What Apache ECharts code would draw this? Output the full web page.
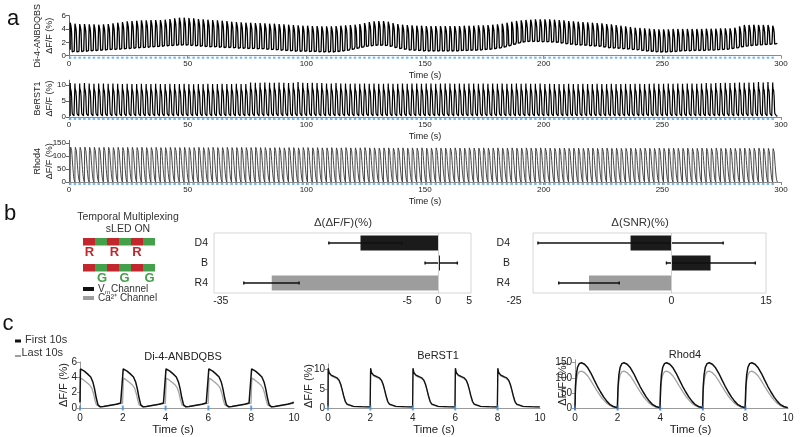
<!DOCTYPE html>
<html>
<head>
<meta charset="utf-8">
<script src="https://cdn.jsdelivr.net/npm/echarts@6/dist/echarts.min.js"></script>
<style>
  html, body { margin: 0; padding: 0; background: #fff; }
  #chart { width: 800px; height: 437px; }
</style>
</head>
<body>
<div id="chart"></div>
<script>
// ---------- values ----------
// panel a: one beat every 2 s, peak / trough of each beat
var beatStart = 0.5, beatPeriod = 2;

var di4Peaks = [
  4.95, 4.8, 4.75, 4.75, 4.7, 4.7, 4.65, 4.7, 4.75, 4.85,
  4.95, 5.05, 5.15, 5.2, 5.25, 5.3, 5.3, 5.35, 5.35, 5.35,
  5.4, 5.5, 5.6, 5.7, 5.7, 5.65, 5.6, 5.5, 5.45, 5.4,
  5.35, 5.3, 5.25, 5.2, 5.1, 5.05, 5.0, 4.95, 4.95, 4.9,
  4.9, 4.85, 4.8, 4.8, 4.75, 4.7, 4.65, 4.6, 4.55, 4.5,
  4.5, 4.45, 4.45, 4.4, 4.4, 4.4, 4.45, 4.5, 4.55, 4.6,
  4.65, 4.75, 4.9, 5.05, 5.15, 5.2, 5.2, 5.1, 4.9, 4.75,
  4.65, 4.6, 4.55, 4.5, 4.5, 4.45, 4.45, 4.45, 4.45, 4.45,
  4.45, 4.45, 4.45, 4.5, 4.5, 4.5, 4.55, 4.55, 4.6, 4.65,
  4.7, 4.8, 4.95, 5.1, 5.2, 5.3, 5.35, 5.4, 5.45, 5.45,
  5.45, 5.45, 5.4, 5.35, 5.3, 5.2, 5.15, 5.1, 5.05, 5.0,
  4.95, 4.9, 4.85, 4.75, 4.7, 4.6, 4.5, 4.4, 4.3, 4.2,
  4.15, 4.1, 4.05, 4.0, 3.95, 3.95, 3.95, 4.0, 4.0, 4.0,
  4.0, 4.0, 4.0, 4.0, 4.05, 4.05, 4.05, 4.1, 4.1, 4.1,
  4.2, 4.4, 4.6, 4.6, 4.65, 4.6, 4.6, 4.6, 4.5
];
var di4Bases = [
  0.35, 0.35, 0.4, 0.45, 0.5, 0.55, 0.6, 0.65, 0.7, 0.72,
  0.75, 0.8, 0.85, 0.9, 0.95, 1.0, 1.05, 1.1, 1.15, 1.2,
  1.25, 1.3, 1.35, 1.35, 1.35, 1.3, 1.25, 1.2, 1.15, 1.1,
  1.1, 1.05, 1.0, 1.0, 0.95, 0.9, 0.9, 0.85, 0.85, 0.8,
  0.8, 0.75, 0.7, 0.65, 0.6, 0.55, 0.5, 0.45, 0.45, 0.45,
  0.4, 0.4, 0.35, 0.35, 0.35, 0.35, 0.4, 0.5, 0.6, 0.75,
  0.9, 1.05, 1.2, 1.3, 1.35, 1.35, 1.3, 1.2, 1.0, 0.85,
  0.75, 0.65, 0.6, 0.55, 0.5, 0.5, 0.5, 0.5, 0.5, 0.5,
  0.5, 0.5, 0.55, 0.55, 0.6, 0.6, 0.65, 0.7, 0.75, 0.85,
  0.95, 1.1, 1.3, 1.5, 1.7, 1.85, 1.95, 1.95, 1.95, 1.9,
  1.9, 1.85, 1.8, 1.7, 1.6, 1.5, 1.45, 1.4, 1.35, 1.3,
  1.25, 1.2, 1.1, 1.0, 0.95, 0.9, 0.85, 0.8, 0.75, 0.7,
  0.6, 0.5, 0.45, 0.4, 0.35, 0.35, 0.4, 0.45, 0.5, 0.55,
  0.55, 0.6, 0.6, 0.6, 0.65, 0.65, 0.7, 0.75, 0.8, 0.9,
  1.0, 1.15, 1.25, 1.35, 1.4, 1.45, 1.5, 1.55, 1.6
];
var berstPeaks = [
  10.6, 10.5, 10.5, 10.6, 10.5, 10.4, 10.5, 10.5, 10.4, 10.5,
  10.4, 10.3, 10.4, 10.3, 10.3, 10.4, 10.3, 10.3, 10.4, 10.3,
  10.3, 10.4, 10.3, 10.3, 10.4, 10.3, 10.2, 10.3, 10.3, 10.4,
  10.3, 10.3, 10.4, 10.3, 10.3, 10.4, 10.3, 10.3, 10.8, 10.7,
  10.7, 10.8, 10.7, 10.7, 10.8, 10.7, 10.6, 10.7, 10.9, 10.7,
  10.6, 10.7, 10.6, 10.6, 10.5, 10.5, 10.6, 10.5, 10.5, 10.4,
  10.5, 10.4, 10.5, 10.4, 10.5, 10.4, 10.4, 10.5, 10.4, 10.4,
  10.5, 10.4, 10.5, 10.5, 10.4, 10.5, 10.5, 10.4, 10.5, 10.5,
  10.5, 10.4, 10.5, 10.4, 10.5, 10.5, 10.4, 10.5, 10.4, 10.5,
  10.4, 10.5, 10.4, 10.4, 10.5, 10.4, 10.5, 10.4, 10.4, 10.5,
  10.3, 10.4, 10.3, 10.3, 10.3, 10.4, 10.3, 10.3, 10.4, 10.3,
  10.3, 10.4, 10.3, 10.3, 10.4, 10.3, 10.3, 10.4, 10.3, 10.4,
  10.4, 10.3, 10.4, 10.5, 10.4, 10.4, 10.5, 10.4, 10.5, 10.4,
  10.5, 10.5, 10.4, 10.5, 10.6, 10.5, 10.6, 10.6, 10.7, 10.6,
  10.7, 10.8, 10.7, 10.8, 10.8, 10.9, 10.8, 10.9, 10.8
];
var berstBase = 0.3;
var rhodPeaks = [
  137, 136, 136, 137, 136, 136, 135, 136, 136, 135,
  136, 135, 136, 136, 135, 136, 135, 135, 136, 135,
  135, 136, 135, 135, 136, 135, 135, 136, 135, 135,
  136, 135, 135, 136, 135, 135, 136, 135, 135, 136,
  135, 135, 134, 135, 135, 134, 135, 135, 134, 135,
  135, 134, 135, 134, 134, 135, 134, 134, 135, 134,
  134, 134, 135, 134, 134, 133, 134, 134, 133, 134,
  134, 133, 134, 133, 134, 133, 133, 134, 133, 133,
  133, 134, 133, 133, 134, 133, 133, 134, 133, 133,
  134, 133, 133, 134, 133, 133, 134, 133, 133, 134,
  133, 133, 132, 133, 133, 132, 133, 133, 132, 133,
  133, 132, 133, 133, 132, 133, 132, 132, 133, 132,
  132, 133, 132, 132, 133, 132, 132, 133, 132, 132,
  133, 132, 132, 133, 132, 132, 133, 132, 132, 133,
  132, 132, 133, 132, 132, 133, 132, 132, 131
];
var rhodBase = 0;

// panel c: one beat (time after onset in s, dF/F in %), first 10 s and last 10 s
var di4FirstT = [0, 0.02, 0.08, 0.2, 0.35, 0.5, 0.6, 0.68, 0.76, 0.84, 0.95, 1.1, 1.3, 1.5, 1.7, 1.9, 1.99];
var di4FirstV = [0.75, 5.1, 5.0, 4.8, 4.45, 4.05, 3.4, 2.5, 1.3, 0.4, 0.15, 0.2, 0.3, 0.4, 0.5, 0.65, 0.75];
var di4LastT = [0, 0.03, 0.15, 0.3, 0.45, 0.55, 0.63, 0.7, 0.77, 0.85, 0.95, 1.1, 1.4, 1.7, 1.99];
var di4LastV = [0.6, 3.9, 3.7, 3.35, 3.0, 2.6, 1.9, 1.0, 0.4, 0.2, 0.15, 0.2, 0.35, 0.5, 0.6];
var berstFirstT = [0, 0.01, 0.05, 0.15, 0.3, 0.42, 0.52, 0.6, 0.66, 0.74, 0.82, 0.9, 0.97, 1.2, 1.6, 1.99];
var berstFirstV = [0.3, 10.4, 9.3, 8.6, 8.2, 7.9, 7.3, 6.2, 5.0, 3.2, 1.7, 1.0, 0.75, 0.45, 0.35, 0.3];
var berstLastT = [0, 0.01, 0.05, 0.15, 0.3, 0.42, 0.52, 0.6, 0.66, 0.74, 0.82, 0.9, 0.97, 1.2, 1.6, 1.99];
var berstLastV = [0.3, 10.1, 9.0, 8.4, 8.0, 7.7, 7.1, 6.0, 4.8, 3.0, 1.5, 0.9, 0.6, 0.35, 0.3, 0.25];
var rhodFirstT = [0, 0.02, 0.06, 0.12, 0.2, 0.3, 0.45, 0.6, 0.75, 0.9, 1.05, 1.2, 1.35, 1.5, 1.65, 1.8, 1.99];
var rhodFirstV = [1, 70, 110, 135, 147, 150, 145, 133, 115, 93, 72, 53, 36, 22, 11, 5, 1];
var rhodLastT = [0, 0.02, 0.06, 0.12, 0.2, 0.3, 0.45, 0.6, 0.75, 0.9, 1.05, 1.2, 1.35, 1.5, 1.65, 1.8, 1.99];
var rhodLastV = [1, 55, 90, 110, 120, 122, 117, 106, 90, 72, 55, 39, 26, 15, 8, 3, 1];
var onsetsC = [0, 2, 4, 6, 8];

// panel b
var barCats = ['D4', 'B', 'R4'];
var barColors = ['#1b1b1b', '#1b1b1b', '#9d9d9d'];
var dffDelta = [-12.5, 0.3, -26.8];
var dffErrLow = [-17.6, -2.1, -31.3];
var dffErrHigh = [-5.8, 3.1, -22.4];
var snrDelta = [-6.5, 6.2, -13.1];
var snrErrLow = [-21.2, -0.8, -17.9];
var snrErrHigh = [8.2, 13.3, -8.3];

// ---------- helpers ----------
var FONT = 'Liberation Sans, Arial, Helvetica, sans-serif';
var INK = '#222';
var AXIS = '#8a8a8a';

var onsetsA = di4Peaks.map(function (p, k) { return beatStart + k * beatPeriod; });

// beat shape from panel c, scaled to each beat's trough and peak
function beatTrace(tT, tV, peaks, bases) {
  var vmin = Math.min.apply(null, tV), vmax = Math.max.apply(null, tV);
  var out = [];
  peaks.forEach(function (pk, k) {
    var b = Array.isArray(bases) ? bases[k] : bases;
    tT.forEach(function (tt, i) {
      out.push([onsetsA[k] + tt, b + (tV[i] - vmin) / (vmax - vmin) * (pk - b)]);
    });
  });
  return out;
}
function repeatBeat(tT, tV, onsets) {
  var out = [];
  onsets.forEach(function (t0) {
    tT.forEach(function (tt, i) { out.push([t0 + tt, tV[i]]); });
  });
  return out;
}

function txt(x, y, s, size, color, align, extra) {
  var st = {
    text: s, fontSize: size, fontFamily: FONT, fill: color || INK,
    align: align || 'center', textAlign: align || 'center',
    verticalAlign: 'middle', textVerticalAlign: 'middle'
  };
  if (extra) for (var k in extra) st[k] = extra[k];
  return { type: 'text', x: x, y: y, z: 20, style: st };
}
function rect(x, y, w, h, fill) {
  return { type: 'rect', z: 20, shape: { x: x, y: y, width: w, height: h }, style: { fill: fill } };
}

function timeAxisA(gi) {
  return {
    type: 'value', gridIndex: gi, min: 0, max: 300, interval: 50,
    axisLine: { lineStyle: { color: AXIS, width: 1 } },
    axisTick: { length: 3, lineStyle: { color: AXIS } },
    axisLabel: { fontSize: 8, color: INK, margin: 4, fontFamily: FONT },
    splitLine: { show: false },
    name: 'Time (s)', nameLocation: 'middle', nameGap: 15, nameMoveOverlap: false,
    nameTextStyle: { fontSize: 9, color: INK, fontFamily: FONT }
  };
}
function valAxisA(gi, max, ticks, name) {
  return {
    type: 'value', gridIndex: gi, min: 0, max: max,
    axisLine: { show: true, lineStyle: { color: '#666' } },
    axisTick: { show: true, length: 3, customValues: ticks, lineStyle: { color: '#666' } },
    axisLabel: { fontSize: 8, color: INK, margin: 3, customValues: ticks, fontFamily: FONT },
    splitLine: { show: false },
    name: name, nameLocation: 'middle', nameRotate: 90, nameGap: 13, nameMoveOverlap: false,
    nameTextStyle: { fontSize: 9, lineHeight: 12, color: INK, fontFamily: FONT }
  };
}
function timeAxisC(gi, pad) {
  return {
    type: 'value', gridIndex: gi, min: 0, max: 10, interval: 2,
    axisLine: { lineStyle: { color: '#9a9a9a', width: 1.2 } },
    axisTick: { show: false },
    axisLabel: { fontSize: 10, color: INK, margin: 5, fontFamily: FONT },
    splitLine: { show: false },
    name: 'Time (s)', nameLocation: 'middle', nameGap: 16, nameMoveOverlap: false,
    nameTextStyle: { fontSize: 11.5, color: INK, fontFamily: FONT, padding: pad || 0 }
  };
}
function valAxisC(gi, max, ticks, gap) {
  return {
    type: 'value', gridIndex: gi, min: 0, max: max,
    axisLine: { show: true, lineStyle: { color: '#9a9a9a' } },
    axisTick: { show: true, length: 3, customValues: ticks, lineStyle: { color: '#9a9a9a' } },
    axisLabel: { fontSize: 10, color: INK, margin: 3, customValues: ticks, fontFamily: FONT },
    splitLine: { show: false },
    name: 'ΔF/F (%)', nameLocation: 'middle', nameRotate: 90, nameGap: gap, nameMoveOverlap: false,
    nameTextStyle: { fontSize: 11, color: INK, fontFamily: FONT }
  };
}
function barValAxis(gi, min, max, ticks) {
  return {
    type: 'value', gridIndex: gi, min: min, max: max,
    axisLine: { show: false }, axisTick: { show: false }, splitLine: { show: false },
    axisLabel: { fontSize: 10.5, color: INK, margin: 3, customValues: ticks, fontFamily: FONT }
  };
}
function barCatAxis(gi, margin) {
  return {
    type: 'category', gridIndex: gi, data: barCats, inverse: true,
    axisLine: { show: false }, axisTick: { show: false },
    axisLabel: { fontSize: 10.5, color: INK, margin: margin, fontFamily: FONT }
  };
}

function lineSeries(ai, data, color, width, z) {
  return {
    type: 'line', xAxisIndex: ai, yAxisIndex: ai, data: data, showSymbol: false,
    lineStyle: { color: color, width: width }, z: z || 2, animation: false, silent: true
  };
}
function stimSeries(ai, times, size, offset, color) {
  return {
    type: 'scatter', xAxisIndex: ai, yAxisIndex: ai, clip: false, silent: true,
    data: times.map(function (t) { return [t, 0]; }),
    symbol: 'rect', symbolSize: size, symbolOffset: offset,
    itemStyle: { color: color }, z: 5
  };
}
function barSeries(ai, vals) {
  return {
    type: 'bar', xAxisIndex: ai, yAxisIndex: ai, barWidth: 15, silent: true,
    data: vals.map(function (v, i) { return { value: v, itemStyle: { color: barColors[i] } }; }),
    markLine: {
      silent: true, symbol: 'none', label: { show: false },
      lineStyle: { color: '#cfcfcf', width: 1, type: 'solid' },
      data: [{ xAxis: 0 }]
    }
  };
}
function errSeries(ai, lo, hi) {
  return {
    type: 'custom', xAxisIndex: ai, yAxisIndex: ai, silent: true, z: 4,
    data: barCats.map(function (c, i) { return [lo[i], hi[i], i]; }),
    encode: { x: [0, 1], y: 2 },
    renderItem: function (params, api) {
      var a = api.coord([api.value(0), api.value(2)]);
      var b = api.coord([api.value(1), api.value(2)]);
      var st = { stroke: '#111', lineWidth: 1.4 };
      return {
        type: 'group', children: [
          { type: 'line', shape: { x1: a[0], y1: a[1], x2: b[0], y2: b[1] }, style: st },
          { type: 'line', shape: { x1: a[0], y1: a[1] - 1.5, x2: a[0], y2: a[1] + 1.5 }, style: st },
          { type: 'line', shape: { x1: b[0], y1: b[1] - 1.5, x2: b[0], y2: b[1] + 1.5 }, style: st }
        ]
      };
    }
  };
}

// ---------- panel b schematic + labels ----------
var RED = '#c1272d', GREEN = '#44a04a';
var muxColors = [RED, GREEN, RED, GREEN, RED, GREEN];
var graphics = [
  txt(13, 19, 'a', 22, '#111'),
  txt(10, 214, 'b', 22, '#111'),
  txt(8, 324, 'c', 22, '#111'),
  txt(128, 217, 'Temporal Multiplexing', 10.5, '#333'),
  txt(128, 229, 'sLED ON', 10.5, '#333'),
  txt(343, 223, 'Δ(ΔF/F)(%)', 11.5, '#333'),
  txt(640, 223, 'Δ(SNR)(%)', 11.5, '#333'),
  { type: 'rect', z: 1, shape: { x: 533, y: 233, width: 233, height: 60 },
    style: { fill: 'none', stroke: '#d6d6d6', lineWidth: 1 } },
  rect(83, 287, 11, 4, '#111'),
  txt(98, 289, 'V', 10, '#333', 'left'),
  txt(105, 292, 'm', 6, '#333', 'left'),
  txt(111, 289, 'Channel', 10, '#333', 'left'),
  rect(83, 296, 11, 4, '#9d9d9d'),
  txt(98, 298.5, 'Ca²⁺ Channel', 10, '#333', 'left'),
  // panel c legend and titles
  rect(15, 339.5, 6, 3, '#111'),
  txt(25, 340, 'First 10s', 11, '#333', 'left'),
  rect(15, 355, 6, 2, '#9d9d9d'),
  txt(21.5, 353, 'Last 10s', 11, '#333', 'left'),
  txt(183, 357, 'Di-4-ANBDQBS', 11, '#222'),
  txt(438, 356, 'BeRST1', 11, '#222'),
  txt(685, 355, 'Rhod4', 11, '#222')
];
var segW = 12;
[238, 264].forEach(function (yy) {
  muxColors.forEach(function (c, i) { graphics.push(rect(83 + i * segW, yy, segW, 7.5, c)); });
});
[89.5, 114.5, 137].forEach(function (x) {
  graphics.push(txt(x, 252.5, 'R', 13, RED, 'center', { fontWeight: 'bold' }));
});
[102, 124.5, 149.5].forEach(function (x) {
  graphics.push(txt(x, 278.5, 'G', 13, GREEN, 'center', { fontWeight: 'bold' }));
});

// ---------- chart ----------
var chart = echarts.init(document.getElementById('chart'), null, { renderer: 'canvas' });
var option = {
  animation: false,
  backgroundColor: '#fff',
  textStyle: { fontFamily: FONT },
  grid: [
    { left: 69, top: 15.7, width: 712, height: 40 },
    { left: 69, top: 80.2, width: 712, height: 36.8 },
    { left: 69, top: 140.4, width: 712, height: 41.6 },
    { left: 214, top: 233, width: 257, height: 60, show: true, borderColor: '#d6d6d6', borderWidth: 1 },
    { left: 514, top: 233, width: 252, height: 60 },
    { left: 80, top: 362, width: 214, height: 48 },
    { left: 328, top: 364, width: 212, height: 46 },
    { left: 575, top: 359.7, width: 213, height: 52.3 }
  ],
  xAxis: [
    timeAxisA(0), timeAxisA(1), timeAxisA(2),
    barValAxis(3, -36.1, 5.3, [-35, -5, 0, 5]),
    barValAxis(4, -25, 15, [-25, 0, 15]),
    timeAxisC(5, [0, 28, 0, 0]), timeAxisC(6), timeAxisC(7, [0, 0, 0, 18])
  ],
  yAxis: [
    valAxisA(0, 6, [0, 2, 4, 6], 'Di-4-ANBDQBS\nΔF/F (%)'),
    valAxisA(1, 11.5, [0, 5, 10], 'BeRST1\nΔF/F (%)'),
    valAxisA(2, 160, [0, 50, 100, 150], 'Rhod4\nΔF/F (%)'),
    barCatAxis(3, 6),
    barCatAxis(4, 4),
    valAxisC(5, 6, [0, 2, 4, 6], 11),
    valAxisC(6, 11.5, [0, 5, 10], 14),
    valAxisC(7, 160, [0, 50, 100, 150], 7)
  ],
  series: [
    lineSeries(0, beatTrace(di4FirstT, di4FirstV, di4Peaks, di4Bases), '#000', 1.3),
    lineSeries(1, beatTrace(berstFirstT, berstFirstV, berstPeaks, berstBase), '#000', 1.2),
    lineSeries(2, beatTrace(rhodFirstT, rhodFirstV, rhodPeaks, rhodBase), '#333', 0.9),
    stimSeries(0, onsetsA, [2.5, 2], [0, 2], '#4ea4f2'),
    stimSeries(1, onsetsA, [2.5, 2], [0, 2], '#4ea4f2'),
    stimSeries(2, onsetsA, [2.5, 2], [0, 2], '#4ea4f2'),
    barSeries(3, dffDelta), errSeries(3, dffErrLow, dffErrHigh),
    barSeries(4, snrDelta), errSeries(4, snrErrLow, snrErrHigh),
    lineSeries(5, repeatBeat(di4LastT, di4LastV, onsetsC), '#a3a3a3', 1.3, 2),
    lineSeries(5, repeatBeat(di4FirstT, di4FirstV, onsetsC), '#111', 1.5, 3),
    lineSeries(6, repeatBeat(berstLastT, berstLastV, onsetsC), '#a3a3a3', 1.3, 2),
    lineSeries(6, repeatBeat(berstFirstT, berstFirstV, onsetsC), '#111', 1.3, 3),
    lineSeries(7, repeatBeat(rhodLastT, rhodLastV, onsetsC), '#a3a3a3', 1.3, 2),
    lineSeries(7, repeatBeat(rhodFirstT, rhodFirstV, onsetsC), '#111', 1.5, 3),
    stimSeries(5, onsetsC, [2, 5], [0, 0], '#3d8fe0'),
    stimSeries(6, onsetsC, [2, 5], [0, 0], '#3d8fe0'),
    stimSeries(7, onsetsC, [2, 5], [0, 0], '#2f6fbf')
  ],
  graphic: graphics
};
chart.setOption(option);
</script>
</body>
</html>
